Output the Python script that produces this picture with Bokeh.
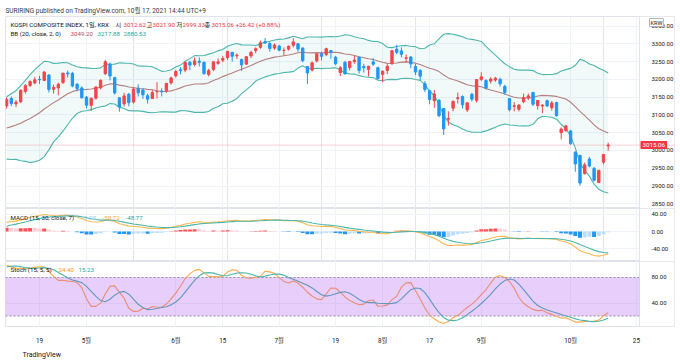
import numpy as np
import pandas as pd
from bokeh.plotting import figure
from bokeh.layouts import column
from bokeh.models import (Range1d, FixedTicker, Label, Span, Grid, Title,
                          BoxAnnotation, ColumnDataSource, PrintfTickFormatter)
from bokeh.embed import file_html
from bokeh.resources import INLINE

# ---------------- data ----------------
holidays = ["2021-05-05", "2021-05-19", "2021-08-16", "2021-09-20", "2021-09-21",
            "2021-09-22", "2021-10-04", "2021-10-11"]
first_date, last_date = "2021-04-08", "2021-10-15"

open_ = [3125, 3146, 3131, 3137, 3166, 3183, 3190,
         3200, 3197, 3212, 3172, 3176, 3191, 3218, 3217, 3186, 3176,
         3150, 3127, 3147, 3176, 3216, 3243, 3205, 3148, 3131, 3158, 3136, 3175, 3170, 3154, 3146, 3165, 3167, 3168, 3190,
         3210, 3227, 3226, 3248, 3242, 3251, 3248, 3214, 3228, 3245, 3254, 3261, 3276, 3266, 3256, 3243, 3266, 3281, 3290, 3306, 3301, 3288,
         3294, 3281, 3285, 3296, 3300, 3288, 3236, 3226, 3252, 3272, 3270, 3281, 3262, 3219, 3248, 3233, 3250, 3262, 3236, 3228, 3249, 3233,
         3214, 3225, 3245, 3285, 3280, 3259, 3263, 3236, 3225, 3188, 3168, 3140, 3141, 3118, 3088, 3119, 3146, 3152, 3114, 3158, 3141,
         3200, 3197, 3195, 3198, 3200, 3180, 3146, 3124, 3116, 3137, 3148, 3163, 3126, 3125, 3140, 3120, 3135, 3050, 3056,
         3055, 2995, 2986, 2935, 2976, 2950, 2910, 2967, 3012.62]
high = [3150, 3152, 3142, 3172, 3187, 3197, 3207,
        3210, 3223, 3215, 3185, 3191, 3218, 3225, 3221, 3190, 3180,
        3153, 3148, 3179, 3200, 3255, 3247, 3207, 3150, 3162, 3162, 3175, 3186, 3175, 3160, 3170, 3192, 3175, 3190, 3208,
        3227, 3234, 3250, 3252, 3262, 3262, 3250, 3230, 3250, 3259, 3266, 3280, 3277, 3273, 3258, 3264, 3280, 3290, 3309, 3316, 3305, 3301,
        3297, 3290, 3295, 3316, 3302, 3290, 3236, 3250, 3274, 3278, 3289, 3282, 3266, 3237, 3252, 3252, 3267, 3264, 3244, 3238, 3260, 3236,
        3225, 3243, 3282, 3297, 3290, 3270, 3265, 3243, 3229, 3195, 3171, 3170, 3145, 3118, 3110, 3140, 3163, 3155, 3135, 3162, 3201,
        3220, 3200, 3206, 3207, 3205, 3185, 3147, 3136, 3130, 3160, 3160, 3165, 3142, 3130, 3143, 3139, 3137, 3065, 3072,
        3058, 2998, 2988, 2966, 2982, 2953, 2945, 2990, 3021.90]
low = [3118, 3125, 3122, 3133, 3160, 3178, 3186,
       3187, 3195, 3163, 3160, 3155, 3187, 3205, 3178, 3166, 3147,
       3118, 3111, 3143, 3172, 3212, 3197, 3157, 3109, 3124, 3124, 3132, 3152, 3145, 3132, 3145, 3146, 3152, 3162, 3185,
       3205, 3214, 3220, 3226, 3236, 3236, 3213, 3208, 3223, 3241, 3248, 3255, 3250, 3257, 3224, 3240, 3260, 3273, 3286, 3300, 3278, 3283,
       3279, 3267, 3281, 3290, 3278, 3248, 3187, 3222, 3247, 3253, 3265, 3258, 3240, 3209, 3214, 3225, 3244, 3216, 3219, 3208, 3238, 3199,
       3192, 3215, 3240, 3271, 3262, 3248, 3231, 3212, 3198, 3164, 3130, 3120, 3093, 3044, 3070, 3110, 3132, 3118, 3108, 3138, 3135,
       3195, 3172, 3188, 3193, 3180, 3157, 3110, 3110, 3110, 3133, 3142, 3125, 3115, 3105, 3122, 3112, 3095, 3031, 3052,
       3016, 2940, 2901, 2932, 2953, 2913, 2908, 2961, 2999.33]
close = [3143.26, 3131.88, 3135.59, 3169.08, 3182.38, 3194.33, 3198.62,
         3198.84, 3220.70, 3171.66, 3177.52, 3186.10, 3217.53, 3215.42, 3181.47, 3174.07, 3147.86,
         3127.20, 3147.00, 3178.74, 3197.20, 3249.30, 3209.43, 3161.66, 3122.11, 3153.32, 3134.52, 3173.05, 3162.28, 3156.42, 3144.30,
         3163.01, 3165.51, 3165.24, 3188.73, 3203.92,
         3221.87, 3224.23, 3247.43, 3240.08, 3252.12, 3247.83, 3216.18, 3224.64, 3249.32, 3249.30, 3258.63, 3278.68, 3264.96, 3267.93,
         3240.79, 3263.88, 3276.19, 3286.10, 3302.84, 3302.14, 3286.68, 3296.68,
         3282.06, 3281.78, 3293.21, 3305.21, 3285.34, 3252.68, 3217.95, 3246.47, 3271.38, 3264.81, 3286.22, 3276.91, 3244.04, 3232.70,
         3215.36, 3250.21, 3254.42, 3224.95, 3232.61, 3236.86, 3242.65, 3202.32,
         3223.04, 3237.14, 3280.38, 3276.13, 3270.36, 3260.87, 3243.19, 3220.62, 3208.99, 3171.29, 3143.09, 3158.93, 3097.83, 3060.51,
         3090.21, 3138.30, 3148.38, 3128.53, 3133.90, 3144.19, 3199.27,
         3207.02, 3175.85, 3201.06, 3203.33, 3187.42, 3162.99, 3114.70, 3125.76, 3127.86, 3148.83, 3153.40, 3130.09, 3140.51, 3127.58,
         3125.24, 3133.64, 3097.92, 3060.27, 3068.82,
         3019.18, 2962.17, 2908.31, 2959.46, 2956.30, 2916.38, 2944.41, 2988.64, 3015.06]
# closes of the sessions before the first visible candle (seed the indicators)
prior_close = [3043.49, 3082.99, 3043.87, 3026.26, 2996.11, 2976.12, 2958.12, 2975.73, 3054.39, 3045.71,
               3067.17, 3047.50, 3066.01, 3039.53, 3035.46, 3004.74, 2996.35, 2995.55, 3041.01, 3036.04,
               3044.35, 3061.42, 3087.40, 3112.80, 3120.83, 3127.20, 3137.51]

tick_dates = ["2021-04-19", "2021-05-03", "2021-06-01", "2021-06-15", "2021-07-01", "2021-07-19",
              "2021-08-02", "2021-08-17", "2021-09-01", "2021-10-01", "2021-10-25"]
tick_labels = ["19", "5월", "6월", "15", "7월", "19", "8월", "17", "9월", "10월", "25"]
price_ticks = [2850, 2900, 2950, 3000, 3050, 3100, 3150, 3200, 3250, 3300, 3350]
macd_ticks = [-40, 0, 40]
stoch_ticks = [40, 80]
stoch_band = (20, 80)

header = "SURIRING published on TradingView.com, 10월 17, 2021 14:44 UTC+9"
bb_values = ["3049.20", "3217.88", "2880.53"]
macd_values = ["-1.95", "-50.72", "-48.77"]
stoch_values = ["24.40", "15.23"]
change_text = "+26.42 (+0.88%)"

# ---------------- derived ----------------
dates = pd.bdate_range(first_date, last_date, freq="C", holidays=holidays)
assert len(dates) == len(close) == len(open_) == len(high) == len(low)
ref_day = "2021-04-19"
x = np.busday_count(ref_day, dates.values.astype("datetime64[D]"), holidays=holidays)
tick_x = [int(v) for v in np.busday_count(ref_day, np.array(tick_dates, dtype="datetime64[D]"), holidays=holidays)]

npr = len(prior_close)
s = pd.Series(prior_close + close, dtype=float)
hs = pd.Series(prior_close + high, dtype=float)
ls = pd.Series(prior_close + low, dtype=float)
basis = s.rolling(20).mean()
dev = s.rolling(20).std(ddof=0)
upper = basis + 2 * dev
lower = basis - 2 * dev
macd = s.ewm(span=15, adjust=False).mean() - s.ewm(span=30, adjust=False).mean()
signal = macd.ewm(span=7, adjust=False).mean()
hist = (macd - signal).values
raw = 100 * (s - ls.rolling(15).min()) / (hs.rolling(15).max() - ls.rolling(15).min())
k = raw.rolling(5).mean()
d = k.rolling(5).mean()

basis, upper, lower = basis.values[npr:], upper.values[npr:], lower.values[npr:]
macd, signal = macd.values[npr:], signal.values[npr:]
prev_hist = hist[npr - 1:-1]
hist = hist[npr:]
k, d = k.values[npr:], d.values[npr:]

o = np.array(open_, float); c = np.array(close, float)
UP, DN = "#F0464B", "#2196F3"
ccol = [UP if cc >= oo else DN for oo, cc in zip(o, c)]
candles = ColumnDataSource(dict(x=x, top=np.maximum(o, c), bottom=np.minimum(o, c),
                                high=high, low=low, color=ccol))
hcol = []
for h, ph in zip(hist, prev_hist):
    if h >= 0:
        hcol.append("#FF5252" if h > ph else "#FFCDD2")
    else:
        hcol.append("#BBDEFB" if h > ph else "#2196F3")
hsrc = ColumnDataSource(dict(x=x, top=hist, color=hcol))

# ---------------- layout / styling ----------------
F = "Roboto, Noto Sans CJK KR"
TXT = "#131722"
GRID = "#F0F3FA"
BORDER = "#E0E3EB"
W = 680
PXD = 4.7            # pixels per session
X0PX = 39            # pixel of session 0
FL, DIVPX, FR = 5, 639, 674
xr = Range1d((FL - X0PX) / PXD, (FR - X0PX) / PXD)
DIVX = (DIVPX - X0PX) / PXD


def base_fig(height, yr, top=0, bottom=0, xaxis=None):
    p = figure(width=W, height=height, x_range=xr, y_range=yr, y_axis_location="right",
               x_axis_location=xaxis, toolbar_location=None, output_backend="svg",
               min_border_left=FL, min_border_right=W - FR, min_border_top=top,
               min_border_bottom=bottom)
    p.outline_line_color = BORDER
    p.background_fill_color = "white"
    p.border_fill_color = "white"
    ax = p.yaxis[0]
    ax.fixed_location = DIVX
    ax.axis_line_color = None
    ax.major_tick_line_color = None
    ax.minor_tick_line_color = None
    ax.major_label_text_font = F
    ax.major_label_text_font_size = "6px"
    ax.major_label_text_color = TXT
    ax.major_label_standoff = 6
    ax.formatter = PrintfTickFormatter(format="%.2f")
    p.ygrid.grid_line_color = GRID
    if xaxis is None:
        p.add_layout(Grid(dimension=0, ticker=FixedTicker(ticks=tick_x), grid_line_color=GRID))
    # price-scale column: hide grid lines there and draw the divider
    p.add_layout(BoxAnnotation(left=DIVX, fill_color="white", fill_alpha=1.0,
                               line_color=None, level="underlay"))
    p.add_layout(Span(location=DIVX, dimension="height", line_color=BORDER, line_width=1))
    return p


def legend(p, ytop, yoff, parts):
    for xo, text, color in parts:
        p.add_layout(Label(x=xr.start, y=ytop, x_offset=xo, y_offset=yoff, text=text,
                           text_color=color, text_font=F, text_font_size="6.2px",
                           text_baseline="middle", text_align="left"))


# ---- main pane ----
y1 = Range1d(2836.8, 3376.8)
p1 = base_fig(208, y1, top=16)
p1.yaxis[0].ticker = FixedTicker(ticks=price_ticks)
p1.title.text = header
p1.title.text_font = F
p1.title.text_font_size = "6.5px"
p1.title.text_font_style = "normal"
p1.title.text_color = "#363A45"
p1.title.align = "left"
p1.title.standoff = 4
p1.title.offset = 0

p1.varea(x=x, y1=lower, y2=upper, fill_color="#26A69A", fill_alpha=0.06)
p1.line(x, upper, line_color="#4DB6AC", line_width=1.1)
p1.line(x, lower, line_color="#4DB6AC", line_width=1.1)
p1.line(x, basis, line_color="#A86B6B", line_width=1.1, line_alpha=0.85)
p1.add_layout(Span(location=close[-1], dimension="width", line_color="#F23645",
                   line_alpha=0.45, line_width=1, line_dash="1 1"))
p1.segment(x0="x", y0="low", x1="x", y1="high", line_color="color", line_width=1, source=candles)
p1.vbar(x="x", top="top", bottom="bottom", width=0.5, fill_color="color", line_color="color",
        line_width=1, source=candles)

RED = "#F23645"
legend(p1, y1.end, -8, [
    (5, "KOSPI COMPOSITE INDEX, 1일, KRX", TXT),
    (110, "시", TXT), (118, f"{open_[-1]:.2f}", RED),
    (141, "고", TXT), (147, f"{high[-1]:.2f}", RED),
    (171, "저", TXT), (177, f"{low[-1]:.2f}", RED),
    (199, "종", TXT), (206, f"{close[-1]:.2f}", RED),
    (230, change_text, RED),
])
legend(p1, y1.end, -17, [
    (5, "BB (20, close, 2, 0)", TXT),
    (65, bb_values[0], "#B5524F"),
    (92, bb_values[1], "#26A69A"),
    (118, bb_values[2], "#26A69A"),
])
p1.add_layout(Label(x=DIVX, y=close[-1], x_offset=1, text=f"{close[-1]:.2f}", text_color="white",
                    text_font=F, text_font_size="6.2px", text_baseline="middle", text_align="left",
                    background_fill_color=RED, padding=2))
p1.add_layout(Label(x=DIVX, y=y1.end, x_offset=10, y_offset=-6, text="KRW", text_color=TXT,
                    text_font=F, text_font_size="5.6px", text_baseline="middle", text_align="left",
                    background_fill_color="white", border_line_color="#B2B5BE", padding=1))

# ---- MACD pane ----
y2 = Range1d(-68.6, 52.6)
p2 = base_fig(53, y2)
p2.yaxis[0].ticker = FixedTicker(ticks=macd_ticks)
p2.vbar(x="x", top="top", bottom=0, width=0.85, fill_color="color", line_color=None, source=hsrc)
p2.line(x, macd, line_color="#FFB74D", line_width=1.1)
p2.line(x, signal, line_color="#4DB6AC", line_width=1.1)
legend(p2, y2.end, -9, [
    (5, "MACD (15, 30, close, 7)", TXT),
    (77, macd_values[0], "#90CAF9"),
    (97, macd_values[1], "#FFA726"),
    (120, macd_values[2], "#26A69A"),
])

# ---- Stoch pane ----
y3 = Range1d(3.7, 104.9)
p3 = base_fig(100, y3, bottom=35, xaxis="below")
p3.yaxis[0].ticker = FixedTicker(ticks=stoch_ticks)
xa = p3.xaxis[0]
xa.ticker = FixedTicker(ticks=tick_x)
xa.major_label_overrides = {t: lab for t, lab in zip(tick_x, tick_labels)}
xa.axis_line_color = None
xa.major_tick_line_color = None
xa.minor_tick_line_color = None
xa.major_label_text_font = F
xa.major_label_text_font_size = "6.3px"
xa.major_label_text_color = TXT
xa.major_label_standoff = 4
p3.xgrid.grid_line_color = GRID
p3.segment(x0=[xr.start] * 2, x1=[DIVX] * 2, y0=list(stoch_band), y1=list(stoch_band),
           line_color="#9598A1", line_width=1, line_dash="2 2")
p3.line(x, k, line_color="#FFA94D", line_width=1.1)
p3.line(x, d, line_color="#4DB6AC", line_width=1.1)
p3.add_layout(BoxAnnotation(bottom=stoch_band[0], top=stoch_band[1], right=DIVX,
                            fill_color="#A33BEB", fill_alpha=0.25, line_color=None))
legend(p3, y3.end, -8.5, [
    (5, "Stoch (15, 5, 5)", TXT),
    (53, stoch_values[0], "#FF9800"),
    (73, stoch_values[1], "#26A69A"),
])
p3.add_layout(Title(text="TradingView", align="left", offset=17, text_font=F,
                    text_font_size="7px", text_font_style="normal", text_color=TXT,
                    standoff=3), "below")

layout = column(p1, p2, p3, spacing=0)
open("out.html", "w").write(file_html(layout, INLINE))
